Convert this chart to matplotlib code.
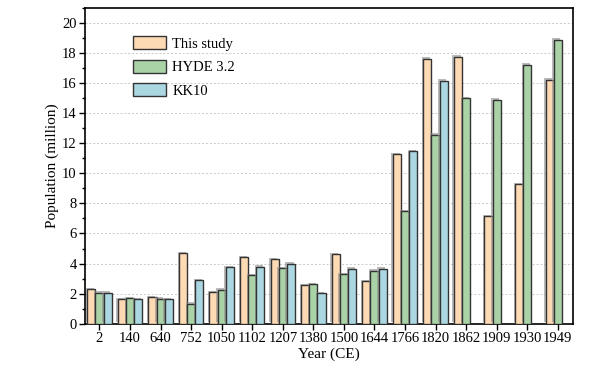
import numpy as np
import matplotlib
matplotlib.use('Agg')
import matplotlib.pyplot as plt
import matplotlib.patheffects as pe
from matplotlib.ticker import MultipleLocator

plt.rcParams['font.family'] = ['Liberation Serif', 'DejaVu Serif']

years = ['2', '140', '640', '752', '1050', '1102', '1207', '1380', '1500',
         '1644', '1766', '1820', '1862', '1909', '1930', '1949']
this_study = [2.31, 1.62, 1.78, 4.69, 2.09, 4.42, 4.29, 2.56, 4.62,
              2.84, 11.29, 17.62, 17.76, 7.16, 9.29, 16.22]
hyde = [2.07, 1.71, 1.67, 1.33, 2.27, 3.22, 3.69, 2.62, 3.31,
        3.53, 7.49, 12.56, 14.98, 14.91, 17.22, 18.89]
kk10 = [2.07, 1.62, 1.64, 2.91, 3.76, 3.80, 3.98, 2.04, 3.67,
        3.67, 11.47, 16.16, np.nan, np.nan, np.nan, np.nan]

fig = plt.figure(figsize=(6.08, 3.71), dpi=100)
ax = fig.add_axes([0.140, 0.1275, 0.8025, 0.851])

x = np.arange(len(years))
w = 0.267
shadow = [pe.SimplePatchShadow(offset=(-1, 1), shadow_rgbFace='0.55', alpha=0.6), pe.Normal()]
series = [(this_study, '#FDD9B4', 'This study', -w),
          (hyde, '#A9D3A6', 'HYDE 3.2', 0),
          (kk10, '#ABD7E2', 'KK10', w)]
for vals, col, lab, off in series:
    bars = ax.bar(x + off, vals, w, color=col, edgecolor='#333333', linewidth=1.0,
                  label=lab, zorder=3)
    for b in bars:
        b.set_path_effects(shadow)

ax.set_xlim(-0.47, 15.5)
ax.set_ylim(0, 21)
ax.set_xticks(x)
ax.set_xticklabels(years)
ax.yaxis.set_major_locator(MultipleLocator(2))
ax.yaxis.set_minor_locator(MultipleLocator(1))
ax.tick_params(axis='both', which='major', direction='out', length=4, width=1,
               labelsize=10.5, pad=2)
ax.tick_params(axis='y', which='minor', direction='out', length=2.5, width=1)
ax.tick_params(axis='x', which='minor', bottom=False)
for s in ax.spines.values():
    s.set_linewidth(1.2)

ax.grid(axis='y', which='major', color='#c8c8c8', linestyle=(0, (2, 2)), linewidth=0.7, zorder=0)
ax.set_axisbelow(True)

ax.set_xlabel('Year (CE)', fontsize=11, labelpad=2)
ax.set_ylabel('Population (million)', fontsize=11, labelpad=2.5)

leg = ax.legend(loc='upper left', bbox_to_anchor=(0.071, 0.952), frameon=False,
                fontsize=10.5, handlelength=2.3, handleheight=1.0,
                handletextpad=0.4, labelspacing=0.62)
for h in leg.legend_handles:
    h.set_path_effects([])

fig.savefig('out.png', dpi=100)
